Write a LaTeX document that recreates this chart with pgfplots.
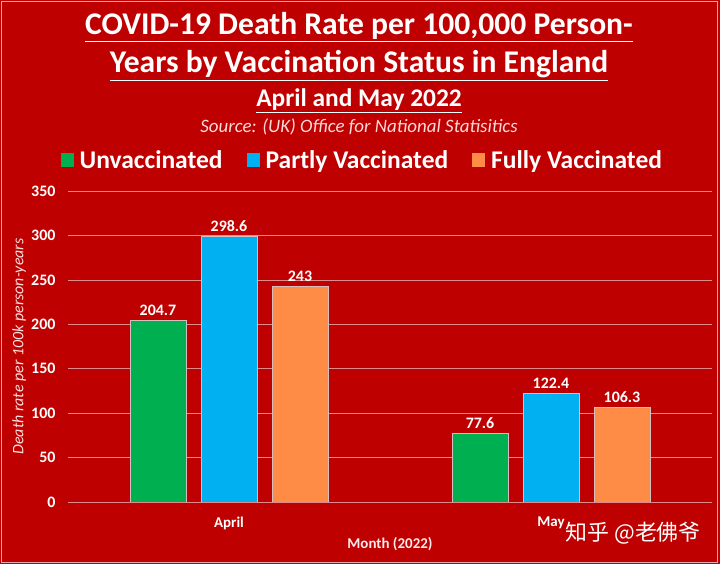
\documentclass[border=0pt]{standalone}
\usepackage{pgfplots}
\pgfplotsset{compat=1.18}
\usepackage{fontspec}
\setmainfont{Carlito}
\newfontfamily\cjk{Noto Sans CJK SC}
\definecolor{bg}{RGB}{190,0,0}
\definecolor{cgreen}{RGB}{0,176,80}
\definecolor{cblue}{RGB}{0,176,240}
\definecolor{corange}{RGB}{255,140,70}
\definecolor{gridc}{RGB}{225,140,140}
\definecolor{barline}{RGB}{215,190,190}
\definecolor{framec}{RGB}{225,170,170}
\begin{document}
\begin{tikzpicture}[x=1bp,y=1bp]
\fill[bg] (0,0) rectangle (720,564);
\draw[framec, line width=1.2bp] (1.5,1.5) rectangle (717.5,562.5);
\node[white, font=\bfseries\fontsize{31.7}{33}\selectfont, inner sep=0pt, anchor=base] at (359,529) {\underline{COVID-19 Death Rate per 100,000 Person-}};
\node[white, font=\bfseries\fontsize{31.7}{33}\selectfont, inner sep=0pt, anchor=base] at (359,491) {\underline{Years by Vaccination Status in England}};
\node[white, font=\bfseries\fontsize{25.5}{27}\selectfont, inner sep=0pt, anchor=base] at (359,457) {\underline{April and May 2022}};
\node[white!85!red, font=\itshape\fontsize{19}{21}\selectfont, inner sep=0pt, anchor=base] at (359,431) {Source: (UK) Office for National Statisitics};
\node[white, font=\cjk\fontsize{22}{24}\selectfont, inner sep=0pt, anchor=east] at (701,31) {知乎 @老佛爷};
\begin{axis}[
  at={(68bp,62bp)}, anchor=south west,
  width=644bp, height=311bp, scale only axis,
  xmin=-0.5, xmax=1.5, ymin=0, ymax=350,
  xtick={0,1}, xticklabels={April,May},
  ytick={0,50,...,350},
  ymajorgrids, grid style={gridc, line width=0.7bp},
  axis line style={draw=none}, major tick length=0pt,
  ybar=15bp, bar width=56bp,
  /pgf/number format/assume math mode=true,
  tick label style={white, font=\bfseries\fontsize{16}{18}\selectfont},
  yticklabel style={anchor=east, xshift=-9bp},
  xticklabel style={anchor=center, yshift=-21bp, font=\bfseries\fontsize{15}{17}\selectfont},
  nodes near coords,
  nodes near coords style={white, font=\bfseries\fontsize{16}{18}\selectfont, anchor=south, yshift=1bp},
  ylabel={Death rate per 100k person-years},
  ylabel style={at={(axis description cs:-0.076,0.5)}, anchor=center, white!88!red, font=\itshape\fontsize{16}{18}\selectfont},
  xlabel={Month (2022)},
  xlabel style={at={(axis description cs:0.5,-0.135)}, anchor=center, white!92!red, font=\bfseries\fontsize{15}{17}\selectfont},
  legend columns=3,
  legend style={at={(axis description cs:0.457,1.10)}, anchor=center, draw=none, fill=none, text=white,
    font=\bfseries\fontsize{25.6}{27}\selectfont,
    /tikz/every odd column/.append style={column sep=4bp},
    /tikz/every even column/.append style={column sep=22bp}},
  legend image code/.code={\draw[#1, draw=none] (0bp,-7bp) rectangle (13bp,7bp);},
]
\addplot[fill=cgreen, draw=barline, line width=0.6bp] coordinates {(0,204.7) (1,77.6)};
\addplot[fill=cblue, draw=barline, line width=0.6bp] coordinates {(0,298.6) (1,122.4)};
\addplot[fill=corange, draw=barline, line width=0.6bp] coordinates {(0,243) (1,106.3)};
\legend{Unvaccinated, Partly Vaccinated, Fully Vaccinated}
\end{axis}
\end{tikzpicture}
\end{document}
